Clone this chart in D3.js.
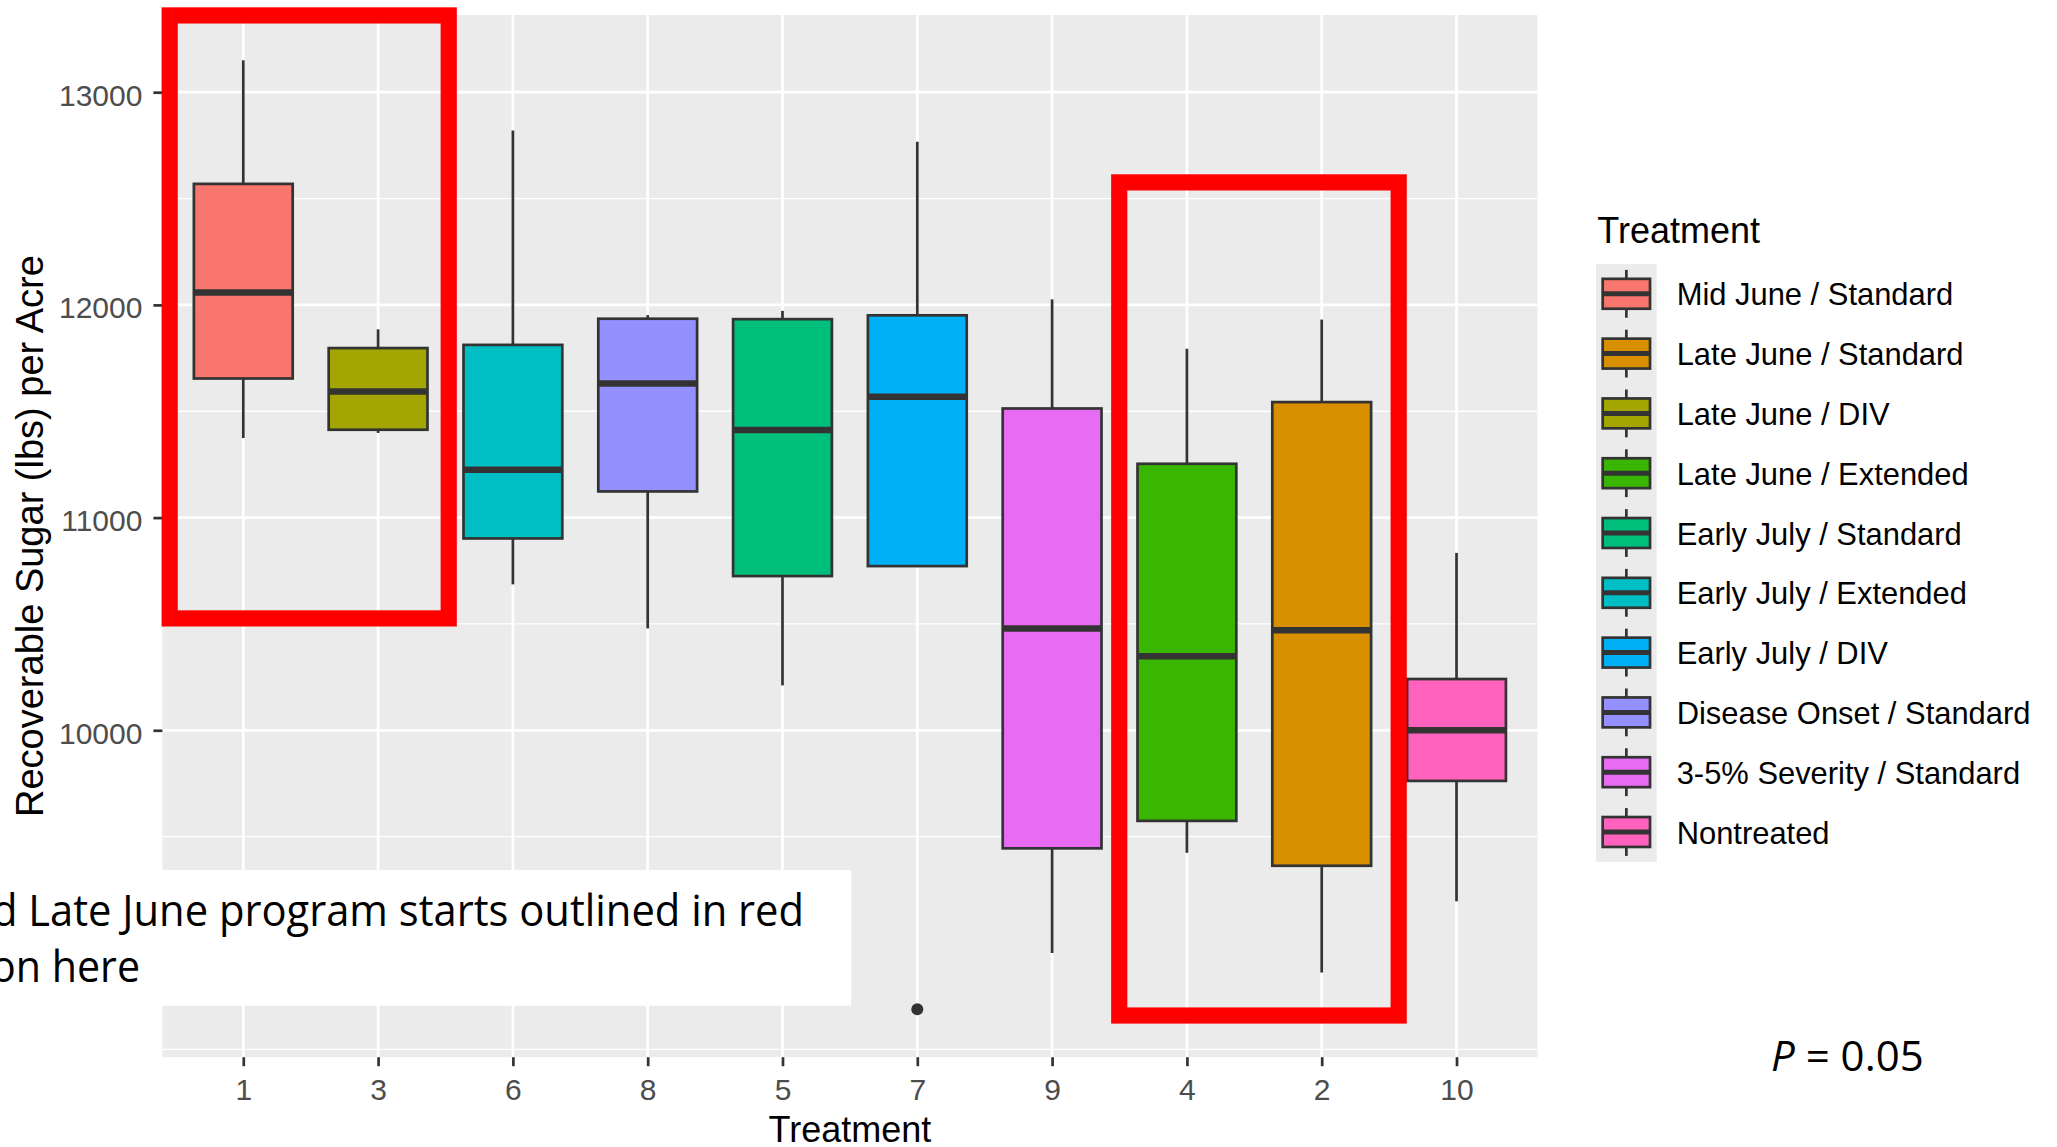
<!DOCTYPE html>
<html><head><meta charset="utf-8">
<script src="https://cdn.jsdelivr.net/npm/d3@7"></script>
<style>body{margin:0;background:#fff;} svg{display:block;}</style>
</head><body>
<svg id="chart" width="2057" height="1147"></svg>
<script>
// ---- data (axis order) ----
const categories    = ["1", "3", "6", "8", "5", "7", "9", "4", "2", "10"];
const lowerWhisker  = [11374, 11398, 10686, 10479, 10211, 10772, 8953, 9424, 8861, 9196];
const lowerQuartile = [11654, 11413, 10902, 11123, 10725, 10772, 9445, 9574, 9363, 9762];
const medians       = [12058, 11593, 11225, 11630, 11412, 11568, 10479, 10348, 10470, 10000];
const upperQuartile = [12569, 11797, 11812, 11935, 11933, 11951, 11513, 11253, 11543, 10241];
const upperWhisker  = [13150, 11885, 12820, 11952, 11972, 12767, 12026, 11794, 11931, 10834];
const outlierCategories = ["7"];
const outlierValues     = [8688];

// legend (treatment order)
const treatmentIds   = ["1", "2", "3", "4", "5", "6", "7", "8", "9", "10"];
const treatmentNames = ["Mid June / Standard", "Late June / Standard", "Late June / DIV",
  "Late June / Extended", "Early July / Standard", "Early July / Extended",
  "Early July / DIV", "Disease Onset / Standard", "3-5% Severity / Standard", "Nontreated"];
const treatmentColors = ["#F8766D", "#D89000", "#A3A500", "#39B600", "#00BF7D",
  "#00BFC4", "#00B0F6", "#9590FF", "#E76BF3", "#FF62BC"];

const yTicks      = [10000, 11000, 12000, 13000];
const yMinorTicks = [8500, 9500, 10500, 11500, 12500];

// highlighted groups (red outlines)
const highlightFrom = ["1", "4"];
const highlightTo   = ["3", "2"];
const highlightLow  = [10526, 8659];
const highlightHigh = [13361, 12576];

const annotationLines = ["d Late June program starts outlined in red", "on here"];

// ---- layout ----
const W = 2057, H = 1147;
const panel = {left: 162.4, right: 1537.4, top: 15, bottom: 1057.2};
const hlPadLeft = [0.546, 0.502], hlPadRight = [0.524, 0.571];
const svg = d3.select("#chart");
svg.append("rect").attr("width", W).attr("height", H).attr("fill", "#fff");

const x = d3.scalePoint().domain(categories).range([panel.left, panel.right]).padding(0.6);
const y = d3.scaleLinear().domain([8463, 13363]).range([panel.bottom, panel.top]);
const step = x.step();
const boxW = step * 0.733;
const colorOf = d3.scaleOrdinal().domain(treatmentIds).range(treatmentColors);
const FONT = "'Liberation Sans', Arial, sans-serif";

// panel
svg.append("rect").attr("x", panel.left).attr("y", panel.top)
  .attr("width", panel.right - panel.left).attr("height", panel.bottom - panel.top)
  .attr("fill", "#EBEBEB");

const grid = svg.append("g");
grid.selectAll(".minor").data(yMinorTicks).join("line")
  .attr("x1", panel.left).attr("x2", panel.right)
  .attr("y1", d => y(d)).attr("y2", d => y(d))
  .attr("stroke", "#fff").attr("stroke-width", 1.35);
grid.selectAll(".major").data(yTicks).join("line")
  .attr("x1", panel.left).attr("x2", panel.right)
  .attr("y1", d => y(d)).attr("y2", d => y(d))
  .attr("stroke", "#fff").attr("stroke-width", 2.7);
grid.selectAll(".vx").data(categories).join("line")
  .attr("x1", d => x(d)).attr("x2", d => x(d))
  .attr("y1", panel.top).attr("y2", panel.bottom)
  .attr("stroke", "#fff").attr("stroke-width", 2.7);

// axes
const yAxis = svg.append("g").attr("transform", `translate(${panel.left},0)`)
  .call(d3.axisLeft(y).tickValues(yTicks).tickSize(9).tickPadding(11).tickFormat(d3.format("d")));
const xAxis = svg.append("g").attr("transform", `translate(0,${panel.bottom})`)
  .call(d3.axisBottom(x).tickSize(9).tickPadding(12.5));
[yAxis, xAxis].forEach(a => {
  a.select(".domain").remove();
  a.selectAll(".tick line").attr("stroke", "#333333").attr("stroke-width", 2.7);
  a.selectAll(".tick text").attr("fill", "#4D4D4D").style("font-family", FONT).style("font-size", "30px");
});
yAxis.selectAll(".tick text").attr("dy", "0.43em");

// boxes
const boxes = svg.append("g");
categories.forEach((c, i) => {
  const cx = x(c);
  const g = boxes.append("g");
  g.append("line").attr("x1", cx).attr("x2", cx)
    .attr("y1", y(upperWhisker[i])).attr("y2", y(upperQuartile[i]))
    .attr("stroke", "#333333").attr("stroke-width", 2.7);
  g.append("line").attr("x1", cx).attr("x2", cx)
    .attr("y1", y(lowerQuartile[i])).attr("y2", y(lowerWhisker[i]))
    .attr("stroke", "#333333").attr("stroke-width", 2.7);
  g.append("rect").attr("x", cx - boxW / 2).attr("width", boxW)
    .attr("y", y(upperQuartile[i])).attr("height", y(lowerQuartile[i]) - y(upperQuartile[i]))
    .attr("fill", colorOf(c)).attr("stroke", "#333333").attr("stroke-width", 2.7);
  g.append("line").attr("x1", cx - boxW / 2).attr("x2", cx + boxW / 2)
    .attr("y1", y(medians[i])).attr("y2", y(medians[i]))
    .attr("stroke", "#333333").attr("stroke-width", 6.5);
});
boxes.selectAll("circle").data(outlierValues).join("circle")
  .attr("cx", (d, i) => x(outlierCategories[i])).attr("cy", d => y(d))
  .attr("r", 6).attr("fill", "#333333");

// red highlight outlines
highlightFrom.forEach((f, i) => {
  const x0 = x(f) - hlPadLeft[i] * step, x1 = x(highlightTo[i]) + hlPadRight[i] * step;
  const y0 = y(highlightHigh[i]), y1 = y(highlightLow[i]);
  svg.append("rect").attr("x", x0).attr("y", y0).attr("width", x1 - x0).attr("height", y1 - y0)
    .attr("fill", "none").attr("stroke", "#FF0000").attr("stroke-width", 16.2);
});

// axis titles
svg.append("text").attr("x", (panel.left + panel.right) / 2).attr("y", 1142)
  .attr("text-anchor", "middle").style("font-family", FONT).style("font-size", "36px")
  .attr("fill", "#000").text("Treatment");
svg.append("text").attr("transform", `translate(43,${(panel.top + panel.bottom) / 2}) rotate(-90)`)
  .attr("text-anchor", "middle").style("font-family", FONT).style("font-size", "38px")
  .attr("fill", "#000").text("Recoverable Sugar (lbs) per Acre");

// legend
const legend = svg.append("g");
const keyLeft = 1596, keyTop = 263.9, keyH = 59.8, keyW = 60.7;
legend.append("text").attr("x", 1597.3).attr("y", 242.5)
  .style("font-family", FONT).style("font-size", "36px").attr("fill", "#000").text("Treatment");
legend.append("rect").attr("x", keyLeft).attr("y", keyTop)
  .attr("width", keyW).attr("height", keyH * treatmentIds.length).attr("fill", "#EBEBEB");
treatmentIds.forEach((t, i) => {
  const top = keyTop + i * keyH, cx = keyLeft + keyW / 2, cy = top + keyH / 2;
  legend.append("line").attr("x1", cx).attr("x2", cx)
    .attr("y1", top + keyH * 0.1).attr("y2", top + keyH * 0.9)
    .attr("stroke", "#333333").attr("stroke-width", 2.7);
  legend.append("rect").attr("x", keyLeft + keyW * 0.11).attr("width", keyW * 0.78)
    .attr("y", top + keyH * 0.25).attr("height", keyH * 0.5)
    .attr("fill", colorOf(t)).attr("stroke", "#333333").attr("stroke-width", 2.7);
  legend.append("line").attr("x1", keyLeft + keyW * 0.11).attr("x2", keyLeft + keyW * 0.89)
    .attr("y1", cy).attr("y2", cy).attr("stroke", "#333333").attr("stroke-width", 5);
  legend.append("text").attr("x", 1676.7).attr("y", cy + 11.5)
    .style("font-family", FONT).style("font-size", "30.9px").attr("fill", "#000")
    .text(treatmentNames[i]);
});

// slide annotation box
const note = svg.append("g");
note.append("rect").attr("x", -5).attr("y", 870).attr("width", 856.3).attr("height", 135.7).attr("fill", "#fff");
const noteFont = "'Open Sans', 'Noto Sans', sans-serif";
note.append("text").attr("x", -8).attr("y", 926).attr("textLength", 812).attr("lengthAdjust", "spacingAndGlyphs")
  .style("font-family", noteFont).style("font-size", "43px").attr("fill", "#000").text(annotationLines[0]);
note.append("text").attr("x", -9).attr("y", 981.7).attr("textLength", 149).attr("lengthAdjust", "spacingAndGlyphs")
  .style("font-family", noteFont).style("font-size", "43px").attr("fill", "#000").text(annotationLines[1]);

const p = svg.append("text").attr("x", 1771).attr("y", 1070.7)
  .style("font-family", noteFont).style("font-size", "42px").attr("fill", "#000");
p.append("tspan").style("font-style", "italic").text("P");
p.append("tspan").text(" = 0.05");
</script>
</body></html>
